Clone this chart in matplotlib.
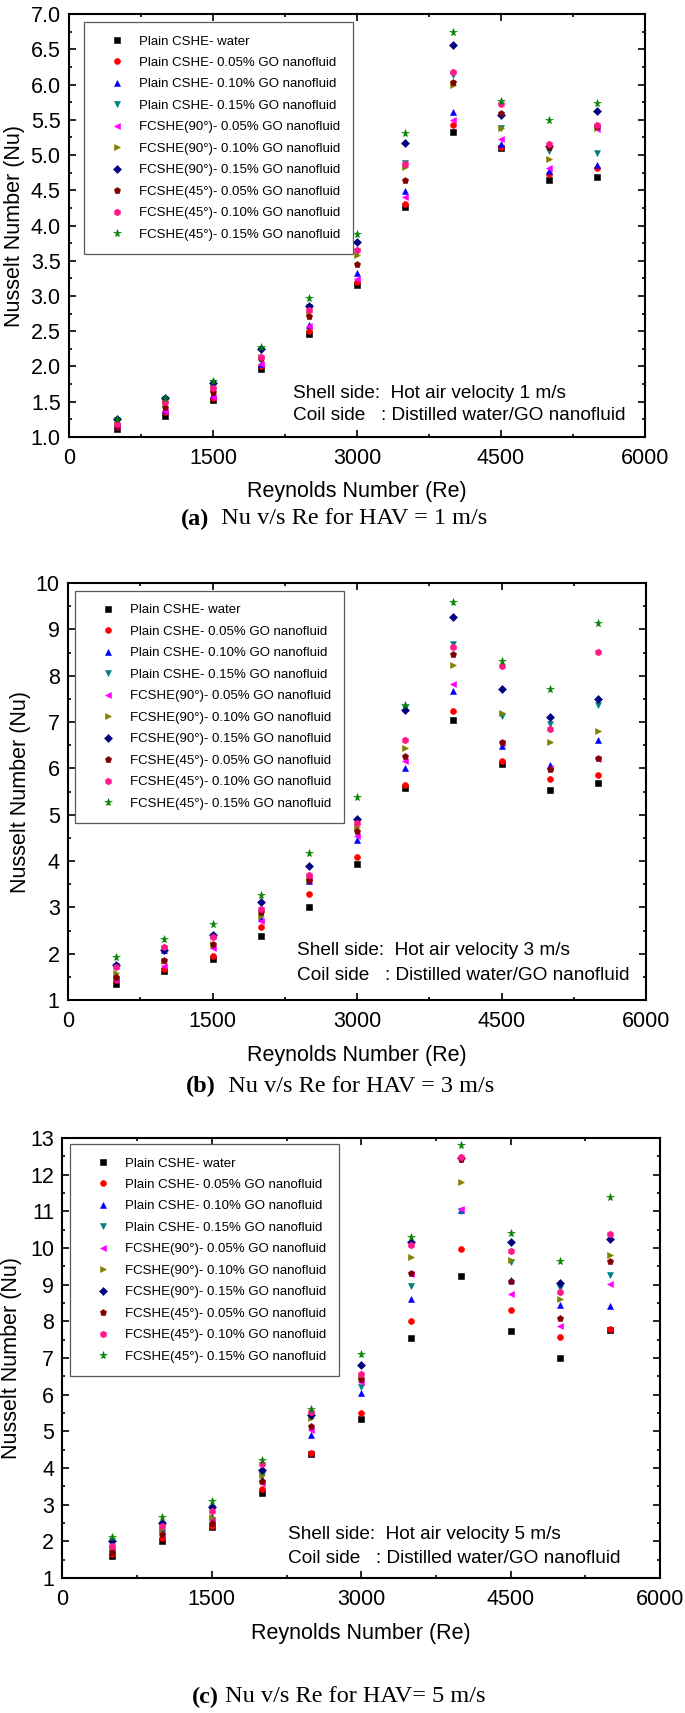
import numpy as np
import matplotlib
matplotlib.use('Agg')
import matplotlib.pyplot as plt
from matplotlib.ticker import MultipleLocator, FormatStrFormatter

plt.rcParams['font.family'] = ['Liberation Sans', 'DejaVu Sans']

# DONNEES
re_values = [500, 1000, 1500, 2000, 2500, 3000, 3500, 4000, 4500, 5000, 5500]

labels = ['Plain CSHE- water',
          'Plain CSHE- 0.05% GO nanofluid',
          'Plain CSHE- 0.10% GO nanofluid',
          'Plain CSHE- 0.15% GO nanofluid',
          'FCSHE(90°)- 0.05% GO nanofluid',
          'FCSHE(90°)- 0.10% GO nanofluid',
          'FCSHE(90°)- 0.15% GO nanofluid',
          'FCSHE(45°)- 0.05% GO nanofluid',
          'FCSHE(45°)- 0.10% GO nanofluid',
          'FCSHE(45°)- 0.15% GO nanofluid']

# HAV = 1 m/s
nu_hav1_water = [1.12, 1.30, 1.53, 1.97, 2.46, 3.15, 4.26, 5.33, 5.10, 4.64, 4.69]
nu_hav1_p005 = [1.14, 1.35, 1.55, 2.00, 2.51, 3.20, 4.31, 5.43, 5.12, 4.73, 4.81]
nu_hav1_p010 = [1.16, 1.38, 1.59, 2.04, 2.59, 3.33, 4.49, 5.61, 5.15, 4.78, 4.86]
nu_hav1_p015 = [1.24, 1.54, 1.76, 2.23, 2.85, 3.63, 4.89, 6.14, 5.39, 5.06, 5.03]
nu_hav1_f90_005 = [1.16, 1.37, 1.57, 2.04, 2.57, 3.24, 4.41, 5.49, 5.23, 4.81, 5.37]
nu_hav1_f90_010 = [1.18, 1.50, 1.69, 2.14, 2.78, 3.58, 4.83, 5.99, 5.39, 4.95, 5.38]
nu_hav1_f90_015 = [1.25, 1.55, 1.77, 2.25, 2.86, 3.77, 5.17, 6.56, 5.57, 5.13, 5.63]
nu_hav1_f45_005 = [1.15, 1.43, 1.64, 2.12, 2.71, 3.45, 4.64, 6.04, 5.60, 5.11, 5.41]
nu_hav1_f45_010 = [1.19, 1.49, 1.70, 2.13, 2.80, 3.65, 4.87, 6.18, 5.73, 5.16, 5.42]
nu_hav1_f45_015 = [1.26, 1.56, 1.79, 2.27, 2.97, 3.88, 5.31, 6.75, 5.76, 5.49, 5.74]

# HAV = 3 m/s
nu_hav3_water = [1.35, 1.63, 1.88, 2.38, 3.00, 3.94, 5.57, 7.05, 6.09, 5.53, 5.69]
nu_hav3_p005 = [1.44, 1.66, 1.96, 2.58, 3.29, 4.09, 5.64, 7.24, 6.17, 5.78, 5.85]
nu_hav3_p010 = [1.55, 2.08, 2.40, 2.78, 3.58, 4.45, 6.01, 7.67, 6.48, 6.07, 6.61]
nu_hav3_p015 = [1.74, 2.10, 2.39, 2.90, 3.63, 4.85, 7.30, 8.69, 7.13, 6.96, 7.37]
nu_hav3_f90_005 = [1.43, 1.73, 2.12, 2.71, 3.62, 4.54, 6.16, 7.82, 6.55, 6.00, 6.20]
nu_hav3_f90_010 = [1.59, 1.85, 2.21, 2.81, 3.60, 4.74, 6.45, 8.24, 7.20, 6.56, 6.81]
nu_hav3_f90_015 = [1.76, 2.08, 2.40, 3.11, 3.89, 4.90, 7.27, 9.27, 7.71, 7.12, 7.49]
nu_hav3_f45_005 = [1.50, 1.86, 2.22, 2.91, 3.59, 4.65, 6.27, 8.48, 6.58, 5.99, 6.22]
nu_hav3_f45_010 = [1.71, 2.15, 2.37, 2.96, 3.70, 4.83, 6.61, 8.61, 8.22, 6.86, 8.52]
nu_hav3_f45_015 = [1.93, 2.32, 2.64, 3.27, 4.18, 5.39, 7.37, 9.59, 8.32, 7.71, 9.13]

# HAV = 5 m/s
nu_hav5_water = [1.61, 2.02, 2.38, 3.31, 4.38, 5.33, 7.55, 9.24, 7.74, 6.99, 7.76]
nu_hav5_p005 = [1.65, 2.10, 2.43, 3.43, 4.40, 5.49, 8.01, 9.98, 8.31, 7.58, 7.78]
nu_hav5_p010 = [1.84, 2.37, 2.67, 3.70, 4.90, 6.04, 8.61, 11.04, 9.13, 8.44, 8.42]
nu_hav5_p015 = [2.01, 2.47, 2.90, 3.80, 5.43, 6.20, 8.95, 11.01, 9.61, 8.90, 9.26]
nu_hav5_f90_005 = [1.76, 2.17, 2.57, 3.60, 5.03, 6.35, 9.30, 11.07, 8.74, 7.87, 9.01]
nu_hav5_f90_010 = [1.83, 2.35, 2.67, 3.81, 5.35, 6.48, 9.75, 11.80, 9.67, 8.60, 9.81]
nu_hav5_f90_015 = [2.02, 2.49, 2.95, 3.95, 5.45, 6.81, 10.17, 12.46, 10.17, 9.04, 10.24]
nu_hav5_f45_005 = [1.72, 2.19, 2.51, 3.65, 5.15, 6.43, 9.31, 12.43, 9.10, 8.08, 9.65]
nu_hav5_f45_010 = [1.87, 2.43, 2.83, 4.11, 5.52, 6.55, 10.08, 12.49, 9.92, 8.79, 10.38]
nu_hav5_f45_015 = [2.11, 2.67, 3.10, 4.22, 5.60, 7.10, 10.29, 12.80, 10.42, 9.65, 11.40]

hav1 = [nu_hav1_water, nu_hav1_p005, nu_hav1_p010, nu_hav1_p015, nu_hav1_f90_005,
        nu_hav1_f90_010, nu_hav1_f90_015, nu_hav1_f45_005, nu_hav1_f45_010, nu_hav1_f45_015]
hav3 = [nu_hav3_water, nu_hav3_p005, nu_hav3_p010, nu_hav3_p015, nu_hav3_f90_005,
        nu_hav3_f90_010, nu_hav3_f90_015, nu_hav3_f45_005, nu_hav3_f45_010, nu_hav3_f45_015]
hav5 = [nu_hav5_water, nu_hav5_p005, nu_hav5_p010, nu_hav5_p015, nu_hav5_f90_005,
        nu_hav5_f90_010, nu_hav5_f90_015, nu_hav5_f45_005, nu_hav5_f45_010, nu_hav5_f45_015]

# styles facon Origin
colors = ['#000000', '#FF0000', '#0000FF', '#008080', '#FF00FF',
          '#808000', '#000080', '#800000', '#FF1A8C', '#008000']
markers = ['s', 'o', '^', 'v', '<', '>', 'D', 'p', 'h', '*']
sizes = [3.9, 4.3, 4.5, 4.5, 4.5, 4.5, 3.9, 4.7, 4.9, 5.8]

fig = plt.figure(figsize=(6.85, 17.13), dpi=100)

panels = [
    # data, rect, ylim, major, minor, fmt, legend anchor, text x, text y, ylabel x, xlabel y
    (hav1, [0.1007, 0.7449, 0.8409, 0.2469], (1.0, 7.0), 0.5, 0.25, '%.1f',
     (0.026, 0.981), 0.389, (0.104, 0.050), -0.094, -0.129, '1'),
    (hav3, [0.0993, 0.4162, 0.8438, 0.2434], (1, 10), 1, 0.5, '%d',
     (0.012, 0.981), 0.396, (0.118, 0.060), -0.083, -0.132, '3'),
    (hav5, [0.0912, 0.0788, 0.8723, 0.2569], (1, 13), 1, 0.5, '%d',
     (0.0126, 0.986), 0.378, (0.100, 0.045), -0.086, -0.127, '5'),
]

for data, rect, ylim, major, minor, fmt, leg_anchor, tx, ty, ylx, xly, hav in panels:
    ax = fig.add_axes(rect)
    for serie, lab, c, m, ms in zip(data, labels, colors, markers, sizes):
        ax.plot(re_values, serie, linestyle='none', marker=m, color=c,
                markersize=ms, markeredgewidth=0.4, label=lab)

    ax.set_xlim(0, 6000)
    ax.set_ylim(*ylim)
    ax.xaxis.set_major_locator(MultipleLocator(1500))
    ax.xaxis.set_minor_locator(MultipleLocator(750))
    ax.yaxis.set_major_locator(MultipleLocator(major))
    ax.yaxis.set_minor_locator(MultipleLocator(minor))
    ax.yaxis.set_major_formatter(FormatStrFormatter(fmt))

    for sp in ax.spines.values():
        sp.set_linewidth(1.5)
    ax.tick_params(which='both', direction='in', top=True, right=True, width=1.2)
    ax.tick_params(which='major', length=5, labelsize=15.5)
    ax.tick_params(which='minor', length=2.5)
    ax.tick_params(axis='x', pad=8)
    ax.tick_params(axis='y', pad=6)

    ax.set_xlabel('Reynolds Number (Re)', fontsize=15.5, va='center')
    ax.xaxis.set_label_coords(0.5, xly)
    ax.set_ylabel('Nusselt Number (Nu)', fontsize=15.5, va='center')
    ax.yaxis.set_label_coords(ylx, 0.5)

    leg = ax.legend(loc='upper left', bbox_to_anchor=leg_anchor, borderaxespad=0,
                    fontsize=9.5, numpoints=1, handlelength=3.0, handletextpad=0.15,
                    borderpad=1.0, labelspacing=0.7, fancybox=False, framealpha=1)
    leg.get_frame().set_edgecolor('0.35')
    leg.get_frame().set_linewidth(0.9)

    ax.text(tx, ty[0], 'Shell side:  Hot air velocity ' + hav + ' m/s',
            transform=ax.transAxes, fontsize=13.7, va='center')
    ax.text(tx, ty[1], 'Coil side   : Distilled water/GO nanofluid',
            transform=ax.transAxes, fontsize=13.7, va='center')

# Legendes sous les graphes
captions = [('(a)', '  Nu v/s Re for HAV = 1 m/s', 181, 519),
            ('(b)', '  Nu v/s Re for HAV = 3 m/s', 186, 1086),
            ('(c)', ' Nu v/s Re for HAV= 5 m/s', 192, 1697)]
for tag, txt, xpx, ypx in captions:
    t = fig.text(xpx / 685, 1 - ypx / 1713, tag, fontsize=17.5, fontweight='bold',
                 family='Liberation Serif', va='center', ha='left')
    fig.canvas.draw()
    bb = t.get_window_extent()
    fig.text(bb.x1 / fig.bbox.width, 1 - ypx / 1713, txt, fontsize=17.5,
             family='Liberation Serif', va='center', ha='left')

fig.savefig('out.png', dpi=100)
